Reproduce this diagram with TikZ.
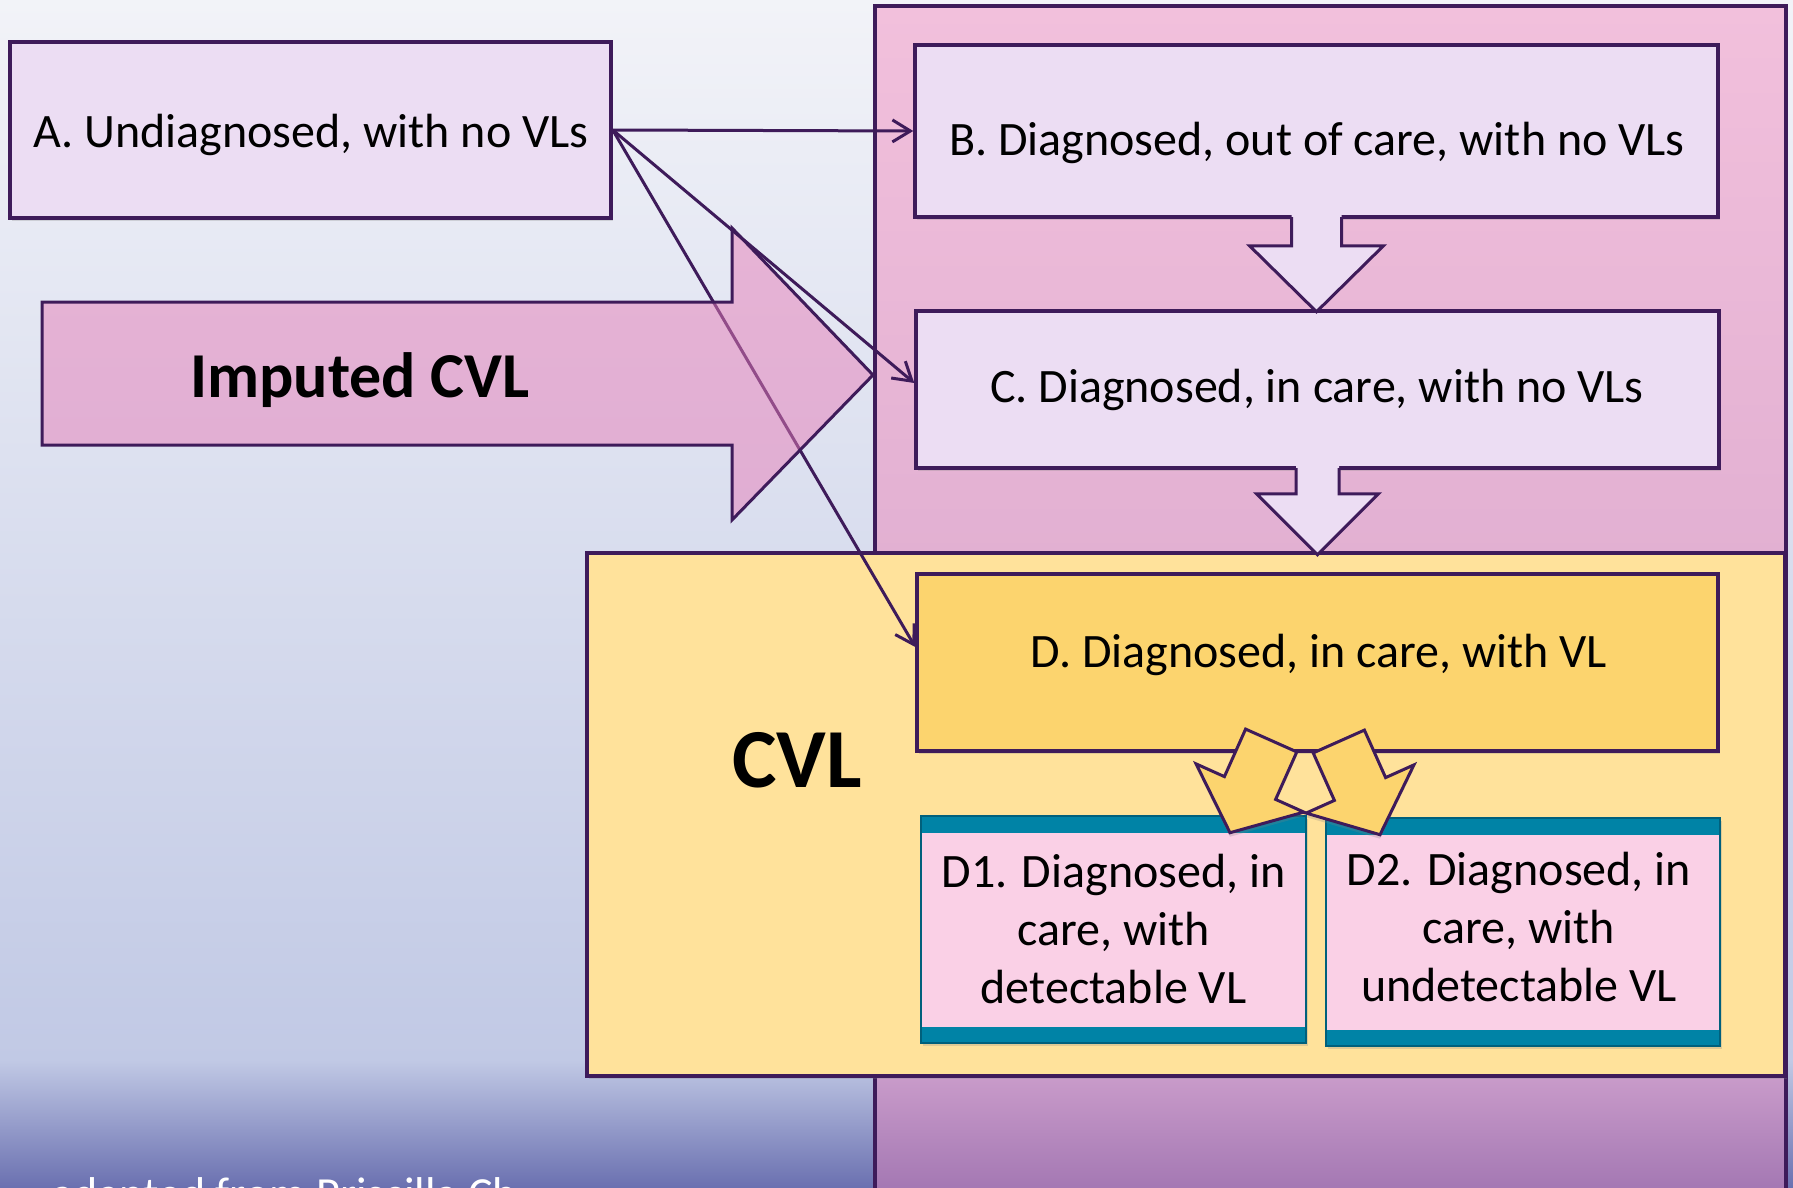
\documentclass[tikz,border=0pt]{standalone}
\usepackage{fontspec}
\setmainfont{Carlito}
\usetikzlibrary{arrows.meta,shadows,calc}

\definecolor{edge}{HTML}{3E1B5A}
\definecolor{lilac}{HTML}{ECDDF3}
\definecolor{bgtop}{HTML}{F2F3F8}
\definecolor{bgmid}{HTML}{C1C9E5}
\definecolor{bgbot}{HTML}{6A70B0}
\definecolor{coltop}{HTML}{F2C0DC}
\definecolor{colmid}{HTML}{E2B0D2}
\definecolor{collow}{HTML}{CB9DCB}
\definecolor{colbot}{HTML}{A276B2}
\definecolor{cvlfill}{HTML}{FFE29B}
\definecolor{gold}{HTML}{FCD46E}
\definecolor{tealband}{HTML}{0083A6}
\definecolor{tealdark}{HTML}{00607C}
\definecolor{rosefill}{HTML}{FAD0E6}
\definecolor{impfill}{HTML}{E67EB8}

\begin{document}
\begin{tikzpicture}[x=1pt,y=-1pt,
  boxshadow/.style={drop shadow={opacity=0.25,shadow xshift=2pt,shadow yshift=-3pt}},
  stagebox/.style={draw=edge,line width=3.5pt,inner sep=0pt,boxshadow},
  stagetext/.style={font=\fontsize{48}{58}\selectfont,inner sep=0pt,anchor=base},
  subbox/.style={draw=tealdark,line width=1.5pt,fill=tealband,inner sep=0pt,boxshadow,
    path picture={\fill[rosefill] ($(path picture bounding box.north west)+(0,17)$)
      rectangle ($(path picture bounding box.south east)+(0,-16)$);}},
  subtext/.style={font=\fontsize{48}{58}\selectfont,inner sep=0pt,align=center},
  flow/.style={draw=edge,line width=3pt,-{Straight Barb[length=18pt,width=22pt]}},
  blockarrow/.style={draw=edge,line width=3pt,line join=miter},
]
\useasboundingbox (0,0) rectangle (1793,1188);

% slide background
\shade[top color=bgtop,bottom color=bgmid] (0,0) rectangle (1793,1061);
\shade[top color=bgmid,bottom color=bgbot] (0,1060) rectangle (1793,1188);

% pink column behind the diagnosed stages
\shade[top color=coltop,bottom color=colmid] (875,6) rectangle (1786,560);
\shade[top color=collow,bottom color=colbot] (875,1070) rectangle (1786,1195);
\draw[edge,line width=3.5pt] (875,1200) -- (875,6) -- (1786,6) -- (1786,1200);

% CVL region
\node[stagebox,fill=cvlfill,minimum width=1198pt,minimum height=523pt] (cvl) at (1186,814.5) {};
\node[font=\bfseries\fontsize{84}{90}\selectfont,inner sep=0pt,anchor=base] (cvllabel) at (797,787) {CVL};

% stage boxes
\node[stagebox,fill=lilac,minimum width=601pt,minimum height=176pt] (A) at (310.5,130) {};
\node[stagetext] (Atext) at (311,147) {A. Undiagnosed, with no VLs};

\node[stagebox,fill=lilac,minimum width=803pt,minimum height=172pt] (B) at (1316.5,131) {};
\node[stagetext] (Btext) at (1317,156) {B. Diagnosed, out of care, with no VLs};

\node[stagebox,fill=lilac,minimum width=803pt,minimum height=157pt] (C) at (1317.5,389.5) {};
\node[stagetext] (Ctext) at (1317,402) {C. Diagnosed, in care, with no VLs};

\node[stagebox,fill=gold,minimum width=801pt,minimum height=177pt] (D) at (1317.5,662.5) {};
\node[stagetext] (Dtext) at (1319,667) {D. Diagnosed, in care, with VL};

% sub-stages of D
\node[subbox,minimum width=385pt,minimum height=227pt] (D1) at (1113.5,929.5) {};
\node[subtext] (D1text) at (1113.5,929) {D1. Diagnosed, in\\care, with\\detectable VL};
\node[subbox,minimum width=394pt,minimum height=228pt] (D2) at (1523,932) {};
\node[subtext] (D2text) at (1519,927) {D2. Diagnosed, in\\care, with\\undetectable VL};

% block arrows B -> C and C -> D
\begin{scope}[shift={(B.south)}]
  \fill[lilac] (-25,-4) -- (-25,27) -- (-67,27) -- (0,93) -- (67,27) -- (25,27) -- (25,-4) -- cycle;
  \draw[blockarrow] (-25,-1.75) -- (-25,27) -- (-67,27) -- (0,93) -- (67,27) -- (25,27) -- (25,-1.75);
\end{scope}
\begin{scope}[shift={(C.south)}]
  \fill[lilac] (-21.5,-4) -- (-21.5,24) -- (-61,24) -- (0,85) -- (61,24) -- (21.5,24) -- (21.5,-4) -- cycle;
  \draw[blockarrow] (-21.5,-1.75) -- (-21.5,24) -- (-61,24) -- (0,85) -- (61,24) -- (21.5,24) -- (21.5,-1.75);
\end{scope}

% split arrows D -> D1 and D -> D2
\filldraw[blockarrow,fill=gold,drop shadow={opacity=0.25,shadow xshift=0pt,shadow yshift=-4pt}]
  (1245.6,729.1) -- (1296.8,751.9) -- (1275.6,799.4) -- (1303.9,812.1) -- (1230,832.7)
  -- (1196.1,763.9) -- (1224.4,776.6) -- cycle;
\begin{scope}[shift={(2610,0)},xscale=-1]
\filldraw[blockarrow,fill=gold,drop shadow={opacity=0.25,shadow xshift=0pt,shadow yshift=-4pt}]
  (1245.6,730.1) -- (1296.8,752.9) -- (1275.6,800.4) -- (1303.9,813.1) -- (1230,834.7)
  -- (1196.1,764.9) -- (1224.4,777.6) -- cycle;
\end{scope}

% A -> D passes under the translucent imputation arrow
\draw[flow] (A.east) -- ([yshift=15.5pt]D.west);

% imputed CVL arrow
\filldraw[draw=edge,line width=3pt,fill=impfill,fill opacity=0.5,line join=miter]
  (42,302) -- (732,302) -- (732,228) -- (873,375) -- (732,520) -- (732,445) -- (42,445) -- cycle;
\node[font=\bfseries\fontsize{64}{70}\selectfont,inner sep=0pt,anchor=base] (implabel) at (360,397) {Imputed CVL};

% A -> C and A -> B
\draw[flow] (A.east) -- ([yshift=6.5pt]C.west);
\draw[flow] (A.east) -- (B.west);

% source note along the bottom edge
\node[font=\fontsize{46}{55}\selectfont,text=white,inner sep=0pt,anchor=base west] (credit) at (51,1209) {adapted from Priscilla Ch};
\end{tikzpicture}
\end{document}
